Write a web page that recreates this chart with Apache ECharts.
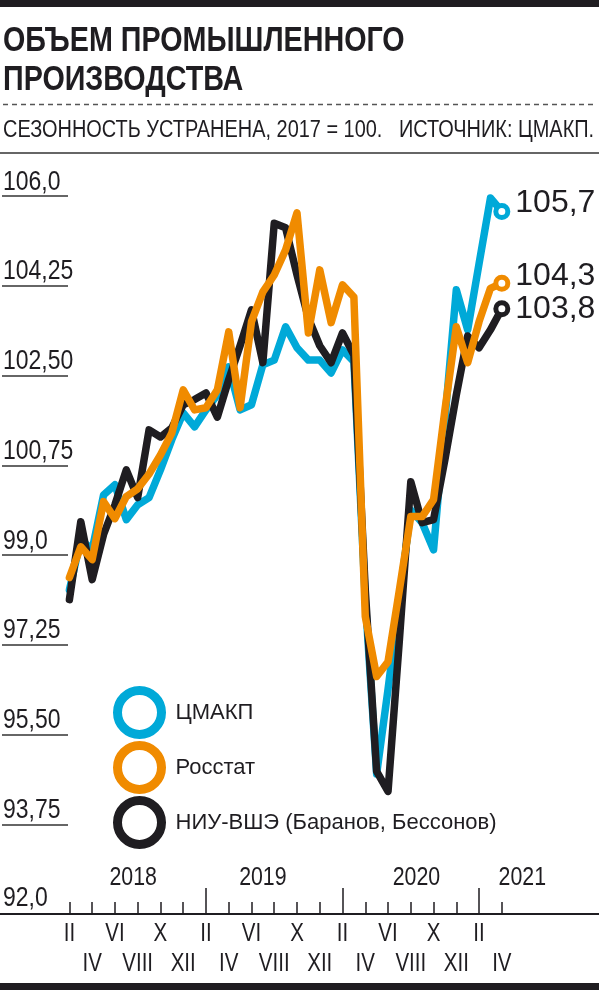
<!DOCTYPE html>
<html>
<head>
<meta charset="utf-8">
<script src="https://cdn.jsdelivr.net/npm/echarts@6/dist/echarts.min.js"></script>
<style>
  html, body { margin: 0; padding: 0; background: #fff; }
  #chart { width: 599px; height: 990px; }
</style>
</head>
<body>
<div id="chart"></div>
<script>
// months Feb 2018 .. Apr 2021
var months = [
  '2018-02','2018-03','2018-04','2018-05','2018-06','2018-07','2018-08','2018-09','2018-10','2018-11','2018-12',
  '2019-01','2019-02','2019-03','2019-04','2019-05','2019-06','2019-07','2019-08','2019-09','2019-10','2019-11','2019-12',
  '2020-01','2020-02','2020-03','2020-04','2020-05','2020-06','2020-07','2020-08','2020-09','2020-10','2020-11','2020-12',
  '2021-01','2021-02','2021-03','2021-04'
];
var cmakp = [98.32, 99.30, 99.10, 100.17, 100.37, 99.69, 99.98, 100.12, 100.66, 101.25, 101.77,
  101.50, 101.83, 102.12, 102.67, 101.83, 101.93, 102.71, 102.80, 103.45, 103.04, 102.80, 102.80,
  102.55, 103.00, 102.77, 98.13, 94.73, 96.38, 98.13, 99.88, 99.63, 99.10, 101.64, 104.17, 103.39,
  104.68, 105.96, 105.7];
var rosstat = [98.56, 99.16, 98.91, 100.04, 99.71, 100.14, 100.29, 100.58, 100.95, 101.38, 102.22,
  101.83, 101.87, 102.22, 103.35, 101.87, 103.55, 104.13, 104.46, 104.95, 105.67, 103.33, 104.56,
  103.53, 104.27, 104.03, 97.80, 96.63, 96.92, 98.32, 99.75, 99.75, 100.08, 101.83, 103.45, 102.75,
  103.55, 104.2, 104.3];
var hse = [98.13, 99.65, 98.52, 99.40, 99.98, 100.66, 100.12, 101.44, 101.30, 101.48, 101.93,
  102.03, 102.16, 101.69, 102.42, 103.08, 103.78, 102.75, 105.47, 105.38, 104.46, 103.62, 103.08,
  102.75, 103.33, 102.90, 98.32, 94.78, 94.39, 97.35, 100.43, 99.63, 99.69, 100.86, 102.12, 103.27,
  103.04, 103.39, 103.8];

var yTicks = [92, 93.75, 95.5, 97.25, 99, 100.75, 102.5, 104.25, 106];
var yTickLabels = ['92,0', '93,75', '95,50', '97,25', '99,0', '100,75', '102,50', '104,25', '106,0'];
var roman = ['I', 'II', 'III', 'IV', 'V', 'VI', 'VII', 'VIII', 'IX', 'X', 'XI', 'XII'];
var yearLabels = ['2018', '2019', '2020', '2021'];
var yearLabelAt = [6.6, 18, 31.5, 40.8];   // month index, Jan 2018 = 0
var shortTicks = [1, 3, 5, 7, 9, 11, 15, 17, 19, 21, 23, 27, 29, 31, 33, 35, 39];
var longTicks = [13, 25, 37];
var labelRow1 = [1, 5, 9, 13, 17, 21, 25, 29, 33, 37];
var labelRow2 = [3, 7, 11, 15, 19, 23, 27, 31, 35, 39];

var FONT = "'Liberation Sans', Arial, sans-serif";
var NARROW_SCALE = 0.82;   // reference uses a condensed face
var INK = '#1f1d21';
var BLUE = '#00a9d8', ORANGE = '#f08b00';
var X_MIN = -5.1, X_MAX = 47.54;

function monthIndex(s) {
  var m = s.split('-');
  return (+m[0] - 2018) * 12 + (+m[1] - 1);
}

function toPairs(arr, color, labelOffset) {
  return arr.map(function (v, i) {
    var idx = monthIndex(months[i]);
    if (i < arr.length - 1) return [idx, v];
    return {
      value: [idx, v],
      symbol: 'circle',
      symbolSize: 12,
      itemStyle: { color: '#fff', borderColor: color, borderWidth: 5 },
      label: {
        show: true, position: 'right', distance: 5, offset: labelOffset,
        fontFamily: FONT, fontSize: 32, color: INK,
        formatter: function (p) { return p.value[1].toFixed(1).replace('.', ','); }
      }
    };
  });
}

function lineSeries(name, arr, color, labelOffset) {
  return {
    name: name, type: 'line', xAxisIndex: 0, yAxisIndex: 0,
    symbol: 'none', showSymbol: true,
    lineStyle: { color: color, width: 7.5, join: 'round', cap: 'round' },
    itemStyle: { color: color },
    data: toPairs(arr, color, labelOffset)
  };
}

// condensed text: regular face squeezed horizontally
function narrowText(x, y, text, size, align, vAlign, weight) {
  return {
    type: 'text', x: x, y: y, scaleX: NARROW_SCALE, silent: true,
    style: { text: text, fontFamily: FONT, fontSize: size, fontWeight: weight || 'normal',
      fill: INK, align: align, verticalAlign: vAlign }
  };
}

var chart = echarts.init(document.getElementById('chart'));
chart.setOption({
  animation: false,
  legend: {
    data: [
      { name: 'ЦМАКП', itemStyle: { borderColor: BLUE } },
      { name: 'Росстат', itemStyle: { borderColor: ORANGE } },
      { name: 'НИУ-ВШЭ (Баранов, Бессонов)', itemStyle: { borderColor: INK } }
    ],
    orient: 'vertical', left: 113, top: 686, padding: 0,
    icon: 'circle', itemWidth: 44, itemHeight: 44, itemGap: 2,
    itemStyle: { color: '#fff', borderWidth: 9 },
    textStyle: { fontFamily: FONT, fontSize: 22, color: INK, padding: [0, 0, 0, 9] },
    selectedMode: false
  },
  grid: [
    { left: 0, right: 0, top: 196, bottom: 76 },
    { left: 2, width: 66, top: 196, bottom: 76 }
  ],
  xAxis: [
    { gridIndex: 0, type: 'value', position: 'bottom', min: X_MIN, max: X_MAX,
      splitLine: { show: false }, axisLabel: { show: false },
      axisLine: { show: true, lineStyle: { color: INK, width: 2 } },
      axisTick: { show: true, inside: true, length: 12, customValues: shortTicks, lineStyle: { color: INK, width: 1.5 } } },
    { gridIndex: 0, type: 'value', position: 'bottom', min: X_MIN, max: X_MAX,
      splitLine: { show: false }, axisLine: { show: false }, axisLabel: { show: false },
      axisTick: { show: true, inside: true, length: 26, customValues: longTicks, lineStyle: { color: INK, width: 1.5 } } },
    { gridIndex: 1, type: 'value', show: false }
  ],
  yAxis: [
    { gridIndex: 0, type: 'value', min: 92, max: 106, show: false },
    { gridIndex: 1, type: 'value', min: 92, max: 106, interval: 1.75,
      axisLine: { show: false }, axisTick: { show: false }, axisLabel: { show: false },
      splitLine: { show: true, lineStyle: { color: '#333', width: 1.5 } } }
  ],
  series: [
    lineSeries('ЦМАКП', cmakp, BLUE, [0, -8]),
    lineSeries('НИУ-ВШЭ (Баранов, Бессонов)', hse, INK, [0, 0]),
    lineSeries('Росстат', rosstat, ORANGE, [0, -7])
  ]
});

// texts in the condensed face, placed through the axes' own scales
var graphics = [
  { type: 'rect', shape: { x: 0, y: 0, width: 599, height: 7 }, style: { fill: INK } },
  { type: 'line', shape: { x1: 3, y1: 104.5, x2: 597, y2: 104.5 }, style: { stroke: '#555', lineWidth: 1.3, lineDash: [5, 4] } },
  { type: 'line', shape: { x1: 0, y1: 153, x2: 599, y2: 153 }, style: { stroke: '#666', lineWidth: 2 } },
  { type: 'rect', shape: { x: 0, y: 983, width: 599, height: 7 }, style: { fill: INK } },
  narrowText(3, 59, 'ОБЪЕМ ПРОМЫШЛЕННОГО', 35, 'left', 'bottom', 'bold'),
  narrowText(3, 98, 'ПРОИЗВОДСТВА', 35, 'left', 'bottom', 'bold'),
  narrowText(3, 142, 'СЕЗОННОСТЬ УСТРАНЕНА, 2017 = 100.   ИСТОЧНИК: ЦМАКП.', 24.3, 'left', 'bottom')
];
yTicks.forEach(function (v, i) {
  var py = chart.convertToPixel({ yAxisIndex: 1 }, v);
  graphics.push(narrowText(3, py + (i === 0 ? -2 : 0), yTickLabels[i], 28, 'left', 'bottom'));
});
labelRow1.concat(labelRow2).forEach(function (m, i) {
  var px = chart.convertToPixel({ xAxisIndex: 0 }, m);
  var py = i < labelRow1.length ? 922 : 952;
  graphics.push(narrowText(px, py, roman[m % 12], 25, 'center', 'top'));
});
yearLabelAt.forEach(function (m, i) {
  var px = chart.convertToPixel({ xAxisIndex: 0 }, m);
  graphics.push(narrowText(px, 891, yearLabels[i], 26, 'center', 'bottom'));
});
chart.setOption({ graphic: graphics });
</script>
</body>
</html>
